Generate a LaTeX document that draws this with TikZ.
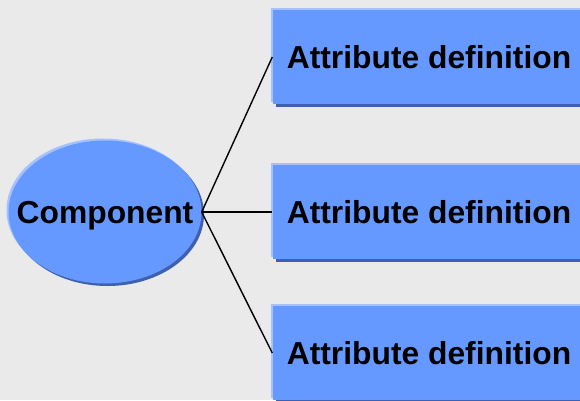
\documentclass[tikz,border=0pt]{standalone}
\usepackage{fontspec}
\setmainfont{Liberation Sans}
\usetikzlibrary{shapes.geometric,shadows}
\definecolor{bgray}{HTML}{EAEAEA}
\definecolor{fillblue}{HTML}{6699FF}
\definecolor{lightblue}{HTML}{A3C2FF}
\definecolor{darkblue}{HTML}{3F5FAF}
\begin{document}
\begin{tikzpicture}[x=1pt,y=-1pt,
    every node/.style={font=\fontsize{31.8}{36}\bfseries\selectfont, text=black, inner sep=0pt},
    attrbox/.style={rectangle, fill=fillblue, minimum width=313pt, minimum height=94pt,
      general shadow={shadow xshift=3pt, shadow yshift=-3pt, fill=darkblue},
      general shadow={shadow xshift=-2pt, shadow yshift=2pt, fill=lightblue}},
    compnode/.style={ellipse, fill=fillblue, minimum width=193pt, minimum height=143pt,
      general shadow={shadow xshift=2.5pt, shadow yshift=-2.5pt, fill=darkblue},
      general shadow={shadow xshift=-2pt, shadow yshift=2pt, fill=lightblue}}]
      \useasboundingbox (0,0) rectangle (580,400);
      \fill[bgray] (0,0) rectangle (580,400);
      \clip (0,0) rectangle (580,400);
      \node[compnode] (comp) at (105,212) {};
      \node[text depth=0pt] (compText) at (comp) {Component};
      \foreach \y/\n in {57/attrA, 212/attrB, 353/attrC} {
        \node[attrbox] (\n) at (429,\y) {Attribute definition};
        \draw[line width=1.4pt] (comp.east) -- (\n.west);
      }
    \end{tikzpicture}
\end{document}
